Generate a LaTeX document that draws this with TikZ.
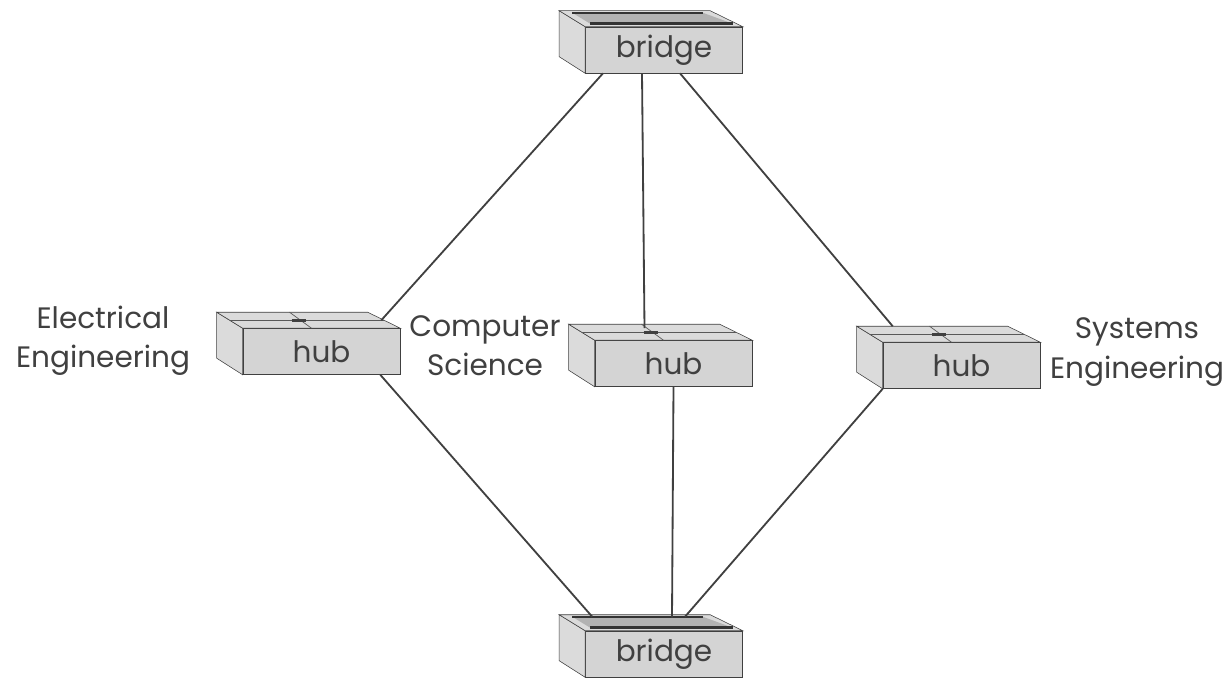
\documentclass[tikz,border=0pt]{standalone}
\usepackage{fontspec}
\setmainfont{Poppins}
\usetikzlibrary{calc}

\tikzset{
    frontface/.style={draw=black!75, fill=black!17, text=black!75, inner sep=0pt,
        minimum width=3.925cm, minimum height=1.15cm,
        font=\fontsize{21}{28}\selectfont},
    boxface/.style={draw=black!75, fill=black!14},
    boxedge/.style={draw=black!65, line width=0.5pt},
    cable/.style={draw=black!75, line width=1.3pt},
    dept/.style={align=center, text=black!75, font=\fontsize{21}{28}\selectfont}
}

% box body: front face node plus side and top
\newcommand{\boxbody}[3]{%
    \node[frontface] (#1) at (#2) {#3};
    \filldraw[boxface] (#1.north west) -- ++(-26,-16) -- ++(0,46) -- (#1.south west) -- cycle;
    \filldraw[boxface] (#1.north west) -- ++(-26,-16) -- ++(151,0) -- (#1.north east) -- cycle;
}
% hub: seam and mark on top
\newcommand{\hubbox}[3]{%
    \boxbody{#1}{#2}{#3}
    \draw[boxedge] ($(#1.north west)+(-13,-8)$) -- ($(#1.north east)+(-16,-8)$);
    \draw[boxedge] ($(#1.north)+(-10,0)$) -- ++(-22,-16);
    \draw[line width=2pt, black!75] ($(#1.north)+(-30,-8)$) -- ++(14,0);
}
% bridge: slot on top
\newcommand{\bridgebox}[3]{%
    \boxbody{#1}{#2}{#3}
    \fill[black!30] ($(#1.north west)+(-13,-14)$) -- ($(#1.north east)+(-40,-14)$)
        -- ($(#1.north east)+(-10,-3)$) -- ($(#1.north west)+(5,-3)$) -- cycle;
    \draw[line width=1.3pt, black!80] ($(#1.north west)+(-13,-14)$) -- ($(#1.north east)+(-40,-14)$);
    \draw[line width=2pt, black!80] ($(#1.north west)+(5,-3.5)$) -- ($(#1.north east)+(-10,-3.5)$);
}

\begin{document}
\begin{tikzpicture}[x=0.025cm, y=-0.025cm]
    \useasboundingbox (0,0) rectangle (1230,680);

    % bridges
    \bridgebox{tb}{664,50}{bridge}
    \bridgebox{bb}{664,654}{bridge}

    % hubs
    \hubbox{ee}{321.5,351.5}{hub}
    \hubbox{cs}{673.5,363.5}{hub}
    \hubbox{se}{961.5,365.5}{hub}

    % department labels
    \node[dept] (eelabel) at (103,341) {Electrical\\Engineering};
    \node[dept] (cslabel) at (485,346) {Computer\\Science};
    \node[dept] (selabel) at (1137,352) {Systems\\Engineering};

    % ports
    \coordinate (tb-l) at ($(tb.south)+(-61,0)$);
    \coordinate (tb-c) at ($(tb.south)+(-22,0)$);
    \coordinate (tb-r) at ($(tb.south)+(16,0)$);
    \coordinate (ee-t) at ($(ee.north east)+(-19,-8)$);
    \coordinate (cs-t) at ($(cs.north)+(-29,-12)$);
    \coordinate (se-t) at ($(se.north west)+(10,-16)$);
    \coordinate (ee-b) at ($(ee.south east)+(-20,0)$);
    \coordinate (bb-l) at ($(bb.north west)+(7,-14)$);
    \coordinate (bb-c) at ($(bb.north)+(8,-13)$);
    \coordinate (bb-r) at ($(bb.north)+(21,-14)$);

    % cables
    \draw[cable] (tb-l) -- (ee-t);
    \draw[cable] (tb-c) -- (cs-t);
    \draw[cable] (tb-r) -- (se-t);
    \draw[cable] (ee-b) -- (bb-l);
    \draw[cable] (cs.south) -- (bb-c);
    \draw[cable] (se.south west) -- (bb-r);
\end{tikzpicture}
\end{document}
